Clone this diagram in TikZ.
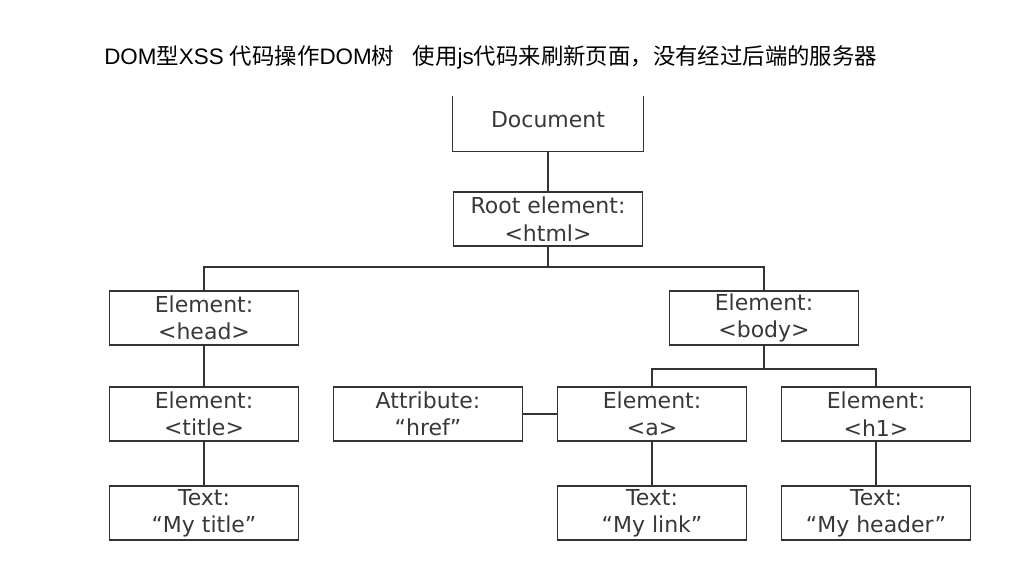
\documentclass[tikz,border=0pt]{standalone}
\usepackage{fontspec}
\setmainfont{DejaVu Sans}
\newfontfamily\cjk{Noto Sans CJK SC}
\newfontfamily\latin{Liberation Sans}
\definecolor{linegray}{HTML}{333333}
\definecolor{textgray}{HTML}{383838}

\begin{document}
\begin{tikzpicture}[x=0.75pt, y=-0.75pt,
            every node/.style = {align=center, text=textgray,
                                font=\fontsize{16.5}{20.5}\selectfont},
            dombox/.style = {shape=rectangle, draw=linegray, line width=1.1pt,
                            minimum width=142pt, minimum height=40.5pt, inner sep=0pt},
            link/.style = {draw=linegray, line width=1.1pt}]
            \useasboundingbox (0,0) rectangle (1028,578);
            % heading
            \node[anchor=west, inner sep=0pt, text=black,
                  font=\fontsize{16.8}{20}\selectfont] (heading) at (104,57)
                {{\latin DOM}{\cjk 型}{\latin XSS }{\cjk 代码操作}{\latin DOM}{\cjk 树}%
                 {\latin\ \ \ }{\cjk 使用}{\latin js}{\cjk 代码来刷新页面，没有经过后端的服务器}};
            % tree
            \node[dombox, draw=none, text depth=6pt] (doc) at (548,123.5) {Document};
            \draw[link] (doc.north west) -- (doc.south west) -- (doc.south east) -- (doc.north east);
            \node[dombox] (root) at (548,219) {Root element:\\<html>};
            \node[dombox] (head) at (204,318) {Element:\\<head>};
            \node[dombox] (body) at (764,318) {Element:\\<body>};
            \node[dombox] (title) at (204,414) {Element:\\<title>};
            \node[dombox] (attr) at (428,414) {Attribute:\\“href”};
            \node[dombox] (a) at (652,414) {Element:\\<a>};
            \node[dombox] (h1) at (876,414) {Element:\\<h1>};
            \node[dombox] (titletext) at (204,513) {Text:\\“My title”};
            \node[dombox] (linktext) at (652,513) {Text:\\“My link”};
            \node[dombox] (headertext) at (876,513) {Text:\\“My header”};
            \coordinate (rootfork) at (548,267);
            \coordinate (bodyfork) at (764,369);
            % connectors
            \draw[link] (doc.south) -- (root.north);
            \draw[link] (root.south) -- (rootfork);
            \draw[link] (head.north) |- (rootfork) -| (body.north);
            \draw[link] (body.south) -- (bodyfork);
            \draw[link] (a.north) |- (bodyfork) -| (h1.north);
            \draw[link] (head.south) -- (title.north);
            \draw[link] (title.south) -- (titletext.north);
            \draw[link] (attr.east) -- (a.west);
            \draw[link] (a.south) -- (linktext.north);
            \draw[link] (h1.south) -- (headertext.north);
\end{tikzpicture}
\end{document}
